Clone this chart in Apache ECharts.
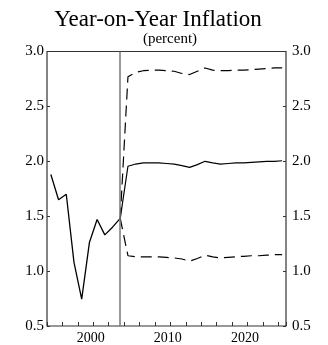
<!DOCTYPE html>
<html>
<head>
<meta charset="utf-8">
<script src="https://cdn.jsdelivr.net/npm/echarts@6/dist/echarts.min.js"></script>
<style>
  html, body { margin: 0; padding: 0; background: #fff; }
  #chart { width: 328px; height: 345px; }
</style>
</head>
<body>
<div id="chart"></div>
<script>
// Annual inflation, plotted at mid-year
const histYears = [1994, 1995, 1996, 1997, 1998, 1999, 2000, 2001, 2002, 2003];
const histValues = [1.88, 1.65, 1.70, 1.08, 0.745, 1.26, 1.47, 1.33, 1.40, 1.48];

// Projection path (starts from the last observed year) with upper / lower bands
const projYears = [2003, 2004, 2005, 2006, 2007, 2008, 2009, 2010, 2011, 2012, 2013,
                   2014, 2015, 2016, 2017, 2018, 2019, 2020, 2021, 2022, 2023, 2024];
const projCentral = [1.48, 1.955, 1.975, 1.985, 1.985, 1.985, 1.98, 1.975, 1.96, 1.945, 1.97,
                     2.00, 1.985, 1.975, 1.98, 1.985, 1.985, 1.99, 1.995, 2.00, 2.00, 2.005];
const projUpper = [1.48, 2.77, 2.81, 2.825, 2.83, 2.83, 2.825, 2.82, 2.80, 2.79, 2.82,
                   2.85, 2.83, 2.825, 2.825, 2.83, 2.83, 2.835, 2.84, 2.845, 2.85, 2.85];
const projLower = [1.48, 1.14, 1.13, 1.13, 1.13, 1.13, 1.125, 1.12, 1.11, 1.09, 1.115,
                   1.145, 1.13, 1.12, 1.125, 1.13, 1.135, 1.14, 1.14, 1.145, 1.15, 1.15];

const splitYear = 2003;           // last observed year (vertical divider)
const yTicks = [0.5, 1.0, 1.5, 2.0, 2.5, 3.0];
const xLabelYears = [2000, 2010, 2020];

const midYear = y => y + 0.5;
const pairs = (xs, ys) => xs.map((x, i) => [midYear(x), ys[i]]);

const serif = 'Liberation Serif';
const ink = '#000';
const frame = '#333';

const yAxisCommon = {
  type: 'value',
  min: yTicks[0],
  max: yTicks[yTicks.length - 1],
  interval: 0.5,
  axisLine: { show: false },
  axisTick: { show: true, inside: true, length: 3, lineStyle: { color: frame, width: 1 } },
  splitLine: { show: false },
  axisLabel: {
    color: ink, fontFamily: serif, fontSize: 15,
    formatter: v => v.toFixed(1)
  }
};

const chart = echarts.init(document.getElementById('chart'), null, { renderer: 'canvas' });
chart.setOption({
  animation: false,
  backgroundColor: '#fff',
  title: [
    {
      text: 'Year-on-Year Inflation',
      left: 153, top: 3, textAlign: 'center',
      textStyle: { fontFamily: serif, fontSize: 23, fontWeight: 'normal', color: ink }
    },
    {
      text: '(percent)',
      left: 165, top: 27, textAlign: 'center',
      textStyle: { fontFamily: serif, fontSize: 15, fontWeight: 'normal', color: ink }
    }
  ],
  grid: {
    left: 47, right: 42, top: 51.5, bottom: 18,
    show: true, borderColor: frame, borderWidth: 1.2, backgroundColor: 'transparent'
  },
  xAxis: {
    type: 'value',
    min: 1994, max: 2025, interval: 2,
    axisLine: { show: false },
    axisTick: { show: true, inside: true, length: 4, lineStyle: { color: frame, width: 1 } },
    splitLine: { show: false },
    axisLabel: {
      color: ink, fontFamily: serif, fontSize: 14, margin: 5, padding: [0, 5, 0, 0],
      formatter: v => (xLabelYears.indexOf(v) >= 0 ? String(v) : '')
    }
  },
  yAxis: [
    Object.assign({}, yAxisCommon, { position: 'left', axisLabel: Object.assign({}, yAxisCommon.axisLabel, { margin: 3 }) }),
    Object.assign({}, yAxisCommon, { position: 'right', axisLabel: Object.assign({}, yAxisCommon.axisLabel, { margin: 6 }) })
  ],
  series: [
    {
      name: 'Actual',
      type: 'line',
      data: pairs(histYears, histValues),
      showSymbol: false,
      lineStyle: { color: ink, width: 1.3 },
      z: 3,
      markLine: {
        silent: true,
        symbol: ['none', 'none'],
        label: { show: false },
        lineStyle: { color: '#777', width: 1.5, type: 'solid' },
        data: [{ xAxis: midYear(splitYear) }]
      }
    },
    {
      name: 'Projection',
      type: 'line',
      data: pairs(projYears, projCentral),
      showSymbol: false,
      lineStyle: { color: ink, width: 1.2 },
      z: 3
    },
    {
      name: 'Upper band',
      type: 'line',
      data: pairs(projYears, projUpper),
      showSymbol: false,
      lineStyle: { color: ink, width: 1.2, type: [11, 6] },
      z: 3
    },
    {
      name: 'Lower band',
      type: 'line',
      data: pairs(projYears, projLower),
      showSymbol: false,
      lineStyle: { color: ink, width: 1.2, type: [11, 6] },
      z: 3
    }
  ]
});
</script>
</body>
</html>
